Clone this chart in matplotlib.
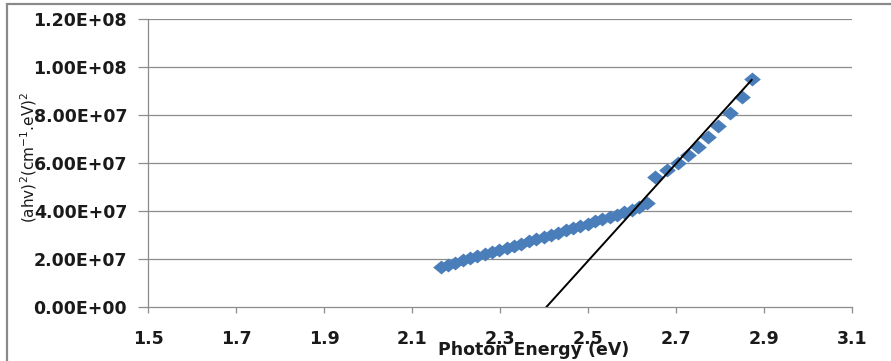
import matplotlib
matplotlib.use("Agg")
import matplotlib.pyplot as plt
from matplotlib.patches import Rectangle

# Photon energy (eV) and (ahv)^2 values (units of 1e7)
energy = [2.165, 2.182, 2.198, 2.215, 2.232, 2.248, 2.265, 2.282, 2.298, 2.315,
          2.332, 2.348, 2.365, 2.382, 2.399, 2.416, 2.432, 2.449, 2.466, 2.482,
          2.499, 2.516, 2.532, 2.549, 2.566, 2.582, 2.599, 2.616, 2.633,
          2.652, 2.679, 2.705, 2.728, 2.751, 2.773, 2.796, 2.823, 2.849, 2.872]
ahv2_e7 = [1.67, 1.75, 1.84, 1.93, 2.01, 2.10, 2.19, 2.28, 2.37, 2.45,
           2.54, 2.63, 2.72, 2.82, 2.91, 3.00, 3.09, 3.18, 3.28, 3.37,
           3.46, 3.56, 3.65, 3.75, 3.84, 3.94, 4.04, 4.15, 4.31,
           5.42, 5.70, 5.97, 6.32, 6.64, 7.06, 7.54, 8.08, 8.75, 9.49]
ahv2 = [v * 1e7 for v in ahv2_e7]

# Linear extrapolation line (band-gap fit)
fit_x = [2.406, 2.872]
fit_y = [0.0, 9.45e7]

x_ticks = [1.5, 1.7, 1.9, 2.1, 2.3, 2.5, 2.7, 2.9, 3.1]
y_ticks = [0, 2e7, 4e7, 6e7, 8e7, 1e8, 1.2e8]
y_tick_labels = ["0.00E+00", "2.00E+07", "4.00E+07", "6.00E+07",
                 "8.00E+07", "1.00E+08", "1.20E+08"]

W, H = 891, 361
fig = plt.figure(figsize=(W / 100, H / 100), dpi=100)
fig.patch.set_facecolor("white")

# outer chart frame
fig.patches.append(Rectangle((7 / W, -0.2), 1.2, 1.2 - 4 / H,
                             transform=fig.transFigure, fill=False,
                             edgecolor="#8a8a8a", linewidth=1.6))

ax = fig.add_axes([148 / W, (H - 306.7) / H, 704 / W, 288 / H])

grid_c = "#8c8c8c"
for y in y_ticks[1:]:
    ax.axhline(y, color=grid_c, linewidth=0.9, zorder=1)

# slightly wide diamond marker
diamond = [(-1.2, 0), (0, 1), (1.2, 0), (0, -1), (-1.2, 0)]
ax.plot(energy, ahv2, linestyle="none", marker=diamond, markersize=12,
        color="#4a7ebb", markeredgewidth=0, zorder=2)
ax.plot(fit_x, fit_y, color="black", linewidth=1.4, zorder=3)

ax.set_xlim(1.5, 3.1)
ax.set_ylim(0, 1.2e8)
ax.set_xticks(x_ticks)
ax.set_xticklabels([f"{t:.1f}" for t in x_ticks])
ax.set_yticks(y_ticks)
ax.set_yticklabels(y_tick_labels)

for s in ["top", "right"]:
    ax.spines[s].set_visible(False)
for s in ["left", "bottom"]:
    ax.spines[s].set_color(grid_c)
    ax.spines[s].set_linewidth(0.9)

ax.tick_params(axis="x", length=4.5, width=0.9, color=grid_c, pad=12,
               labelsize=12.5)
ax.tick_params(axis="y", length=7.5, width=0.9, color=grid_c, pad=7.5,
               labelsize=12.5)
for lab in ax.get_xticklabels() + ax.get_yticklabels():
    lab.set_fontweight("bold")
    lab.set_color("#1a1a1a")

ax.set_xlabel("Photon Energy (eV)", fontsize=12.5, fontweight="bold",
              color="#1a1a1a")
ax.xaxis.set_label_coords(0.548, -0.168)
ax.xaxis.label.set_verticalalignment("baseline")

ax.set_ylabel(r"(ahv)$^2$(cm$^{-1}$.eV)$^2$", fontsize=11, color="#1a1a1a")
ax.yaxis.set_label_coords(-(148 - 29) / 704, (306.7 - 157) / 288)
ax.yaxis.label.set_verticalalignment("center")

fig.savefig("out.png", dpi=100)
